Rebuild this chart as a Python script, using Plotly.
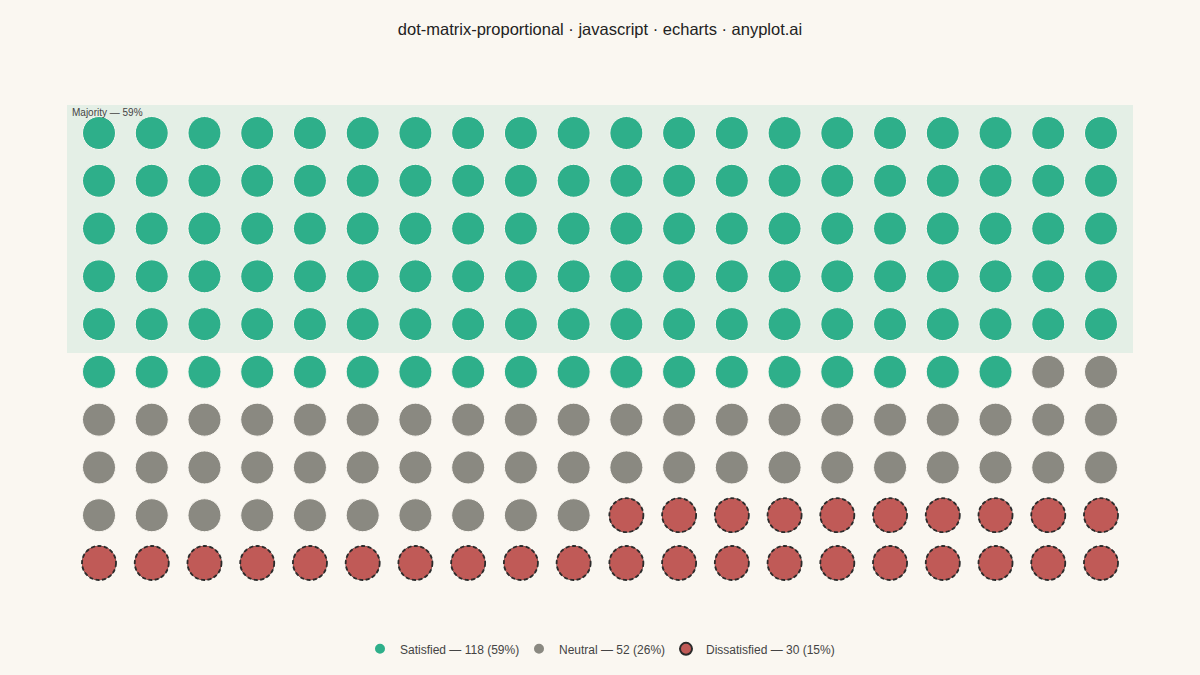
"""Dot matrix proportional chart: 200 dots, one per respondent."""

import plotly.graph_objects as go

# data
categories = ["Satisfied", "Neutral", "Dissatisfied"]
counts = [118, 52, 30]
colors = ["#2EAF8A", "#8A8981", "#C05A57"]
n_cols = 20
n_rows = 10
majority_rows = 5
majority_label = "Majority — 59%"
title = "dot-matrix-proportional · javascript · echarts · anyplot.ai"

BG = "#FAF7F1"
DOT = 33
# legend entry widths (px) so the legend packs like the original
legend_widths = [114, 102, None]

total = sum(counts)

fig = go.Figure()

shapes = [
    dict(type="rect", xref="paper", yref="y", x0=0, x1=1,
         y0=-0.586, y1=majority_rows - 0.396,
         fillcolor="#E4EFE6", line_width=0, layer="below")
]

start = 0
for cat, n, col, lw in zip(categories, counts, colors, legend_widths):
    idx = list(range(start, start + n))
    xs = [i % n_cols for i in idx]
    ys = [i // n_cols for i in idx]
    start += n
    dashed = cat == "Dissatisfied"
    fig.add_trace(go.Scatter(
        x=xs, y=ys, mode="markers",
        name=f"{cat} — {n} ({round(100 * n / total)}%)",
        marker=dict(size=DOT, color=col,
                    line=dict(color="#2B2B2B" if dashed else BG,
                              width=1.5 if dashed else 1)),
        legendwidth=lw,
        hoverinfo="skip",
    ))
    if dashed:
        # dashed outline: plotly markers can't dash, so put a circle shape on top
        r = DOT / 2 + 0.5
        for x, y in zip(xs, ys):
            shapes.append(dict(
                type="circle", xref="x", yref="y",
                xsizemode="pixel", ysizemode="pixel",
                xanchor=x, yanchor=y, x0=-r, x1=r, y0=-r, y1=r,
                fillcolor=col, line=dict(color="#2B2B2B", width=1.8, dash="4px,2.5px"),
                layer="above",
            ))

fig.update_layout(
    width=1200, height=675,
    paper_bgcolor=BG, plot_bgcolor=BG,
    font=dict(family="Liberation Sans, Arial, sans-serif", color="#444444", size=13),
    title=dict(text=title, x=0.5, xanchor="center", y=0.957, yanchor="middle",
               font=dict(size=16.5, color="#222222")),
    margin=dict(l=67, r=67, t=105, b=84),
    xaxis=dict(range=[-0.607, n_cols - 1 + 0.607], visible=False, fixedrange=True),
    yaxis=dict(range=[n_rows - 1 + 0.586, -0.586], visible=False, fixedrange=True),
    shapes=shapes,
    annotations=[dict(text=majority_label, xref="paper", yref="paper",
                      x=0.003, y=1.0, xanchor="left", yanchor="top",
                      showarrow=False, font=dict(size=10, color="#444444"))],
    legend=dict(orientation="h", x=0.5, xanchor="center", y=-0.119, yanchor="middle",
                itemsizing="constant", font=dict(size=12, color="#444444"),
                bgcolor="rgba(0,0,0,0)"),
    showlegend=True,
)

fig.write_html("out.html", config={"displayModeBar": False},
               post_script="document.body.style.margin = '0';")
